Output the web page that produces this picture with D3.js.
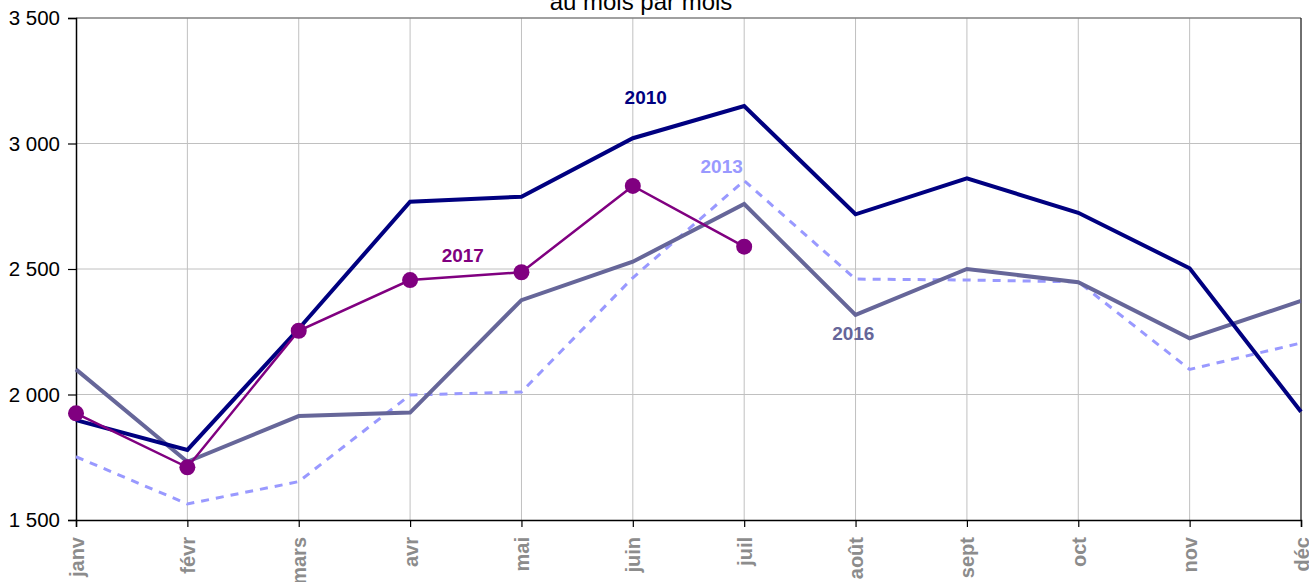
<!DOCTYPE html>
<html><head><meta charset="utf-8">
<script src="https://cdn.jsdelivr.net/npm/d3@7"></script>
<style>body{margin:0;background:#fff;} svg{display:block;font-family:"Liberation Sans",Arial,sans-serif;}</style>
</head><body>
<svg id="c" width="1309" height="582"></svg>
<script>
const months = ["janv","févr","mars","avr","mai","juin","juil","août","sept","oct","nov","déc"];
const yTicks = [1500,2000,2500,3000,3500];
const s2010 = [1898,1779,2262,2768,2788,3021,3149,2718,2861,2724,2503,1931];
const s2013 = [1752,1564,1653,1998,2010,2465,2852,2460,2456,2449,2100,2205];
const s2016 = [2100,1732,1914,1928,2376,2529,2759,2317,2500,2447,2224,2373];
const s2017 = [1925,1710,2254,2456,2487,2831,2589];
const titleText = "au mois par mois";
const seriesLabels = [
  {text:"2010", idx:5.116, val:3184, color:"#000080"},
  {text:"2013", idx:5.798, val:2908, color:"#9999FF"},
  {text:"2017", idx:3.473, val:2556, color:"#800080"},
  {text:"2016", idx:6.98, val:2244, color:"#666699"}
];

const svg = d3.select("#c");
const L=76, R=1301, T=18, B=520;
const x = d3.scaleLinear().domain([0,11]).range([L,R]);
const y = d3.scaleLinear().domain([1500,3500]).range([B,T]);

// gridlines
svg.append("g").selectAll("line").data(d3.range(1,12)).join("line")
  .attr("x1",d=>x(d)).attr("x2",d=>x(d)).attr("y1",T).attr("y2",B)
  .attr("stroke","#c0c0c0").attr("stroke-width",1);
svg.append("g").selectAll("line").data(yTicks.filter(v=>v>1500&&v<3500)).join("line")
  .attr("x1",L).attr("x2",R).attr("y1",d=>y(d)).attr("y2",d=>y(d))
  .attr("stroke","#c0c0c0").attr("stroke-width",1);
// top border and right border
svg.append("line").attr("x1",L).attr("x2",R).attr("y1",y(3500)).attr("y2",y(3500))
  .attr("stroke","#808080").attr("stroke-width",1.5);
svg.append("line").attr("x1",R).attr("x2",R).attr("y1",T).attr("y2",B)
  .attr("stroke","#000").attr("stroke-width",1);

// y axis
const yAxis = d3.axisLeft(y).tickValues(yTicks).tickSize(8).tickPadding(8)
  .tickFormat(d=>d3.format(",")(d).replace(",", "\u00a0"));
const gy = svg.append("g").attr("transform",`translate(${L},0)`).call(yAxis);
gy.select(".domain").attr("stroke","#000").attr("stroke-width",1.5);
gy.selectAll(".tick line").attr("stroke","#000").attr("stroke-width",1.2);
gy.selectAll(".tick text").attr("font-size","20.5px").attr("fill","#000")
  .attr("font-family","'Liberation Sans',Arial,sans-serif");

// x axis
const xAxis = d3.axisBottom(x).tickValues(d3.range(12)).tickSize(7).tickFormat(i=>months[i]);
const gx = svg.append("g").attr("transform",`translate(0,${B})`).call(xAxis);
gx.select(".domain").attr("stroke","#000").attr("stroke-width",1.5);
gx.selectAll(".tick line").attr("stroke","#000").attr("stroke-width",1.2);
gx.selectAll(".tick text").attr("font-size","20px").attr("font-weight","bold").attr("fill","#8c8c8c")
  .attr("font-family","'Liberation Sans',Arial,sans-serif")
  .attr("text-anchor","end").attr("transform","rotate(-90)")
  .attr("x",-17).attr("y",0).attr("dy","0.35em");

const line = d3.line().x((d,i)=>x(i)).y(d=>y(d));
const defs = [
  {data:s2013, color:"#9999FF", w:3, dash:"8,7"},
  {data:s2016, color:"#666699", w:4},
  {data:s2010, color:"#000080", w:4},
  {data:s2017, color:"#800080", w:2.5}
];
defs.forEach(s=>{
  svg.append("path").datum(s.data).attr("d",line).attr("fill","none")
    .attr("stroke",s.color).attr("stroke-width",s.w).attr("stroke-linejoin","miter")
    .attr("stroke-dasharray",s.dash||null);
});
svg.append("g").selectAll("circle").data(s2017).join("circle")
  .attr("cx",(d,i)=>x(i)).attr("cy",d=>y(d)).attr("r",8).attr("fill","#800080");

svg.append("g").selectAll("text").data(seriesLabels).join("text")
  .attr("x",d=>x(d.idx)).attr("y",d=>y(d.val)).attr("dy","0.35em")
  .attr("text-anchor","middle").attr("font-size","19px").attr("font-weight","bold")
  .attr("fill",d=>d.color).text(d=>d.text);

svg.append("text").attr("x",641).attr("y",10).attr("text-anchor","middle")
  .attr("font-size","24px").attr("fill","#000").text(titleText);
</script>
</body></html>
